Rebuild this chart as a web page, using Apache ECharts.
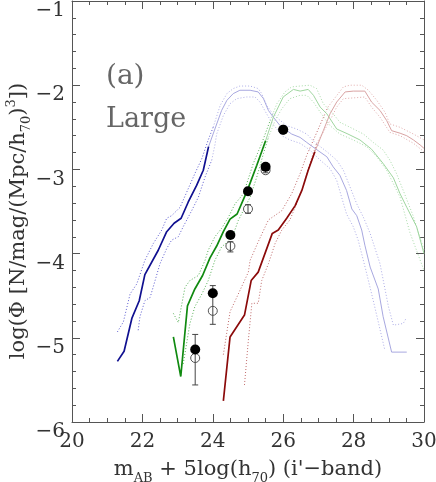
<!DOCTYPE html>
<html>
<head>
<meta charset="utf-8">
<script src="https://cdn.jsdelivr.net/npm/echarts@6/dist/echarts.min.js"></script>
<style>
  html, body { margin: 0; padding: 0; background: #fff; }
  #main { width: 436px; height: 482px; }
</style>
</head>
<body>
<div id="main"></div>
<script>
  // 曲线数据 [mag, log phi]
  const blueDark = [[21.29,-5.28],[21.48,-5.16],[21.70,-4.77],[21.91,-4.56],[22.07,-4.25],[22.45,-3.96],[22.69,-3.74],[22.90,-3.64],[23.10,-3.58],[23.30,-3.39],[23.54,-3.19],[23.73,-3.01],[23.88,-2.73]];
  const blueLight = [[23.88,-2.73],[24.06,-2.52],[24.25,-2.30],[24.40,-2.18],[24.58,-2.10],[24.77,-2.06],[25.06,-2.06],[25.29,-2.08],[25.44,-2.16],[25.58,-2.30],[25.72,-2.38],[25.91,-2.48],[26.24,-2.58],[26.48,-2.62],[26.67,-2.68],[26.90,-2.75],[27.24,-2.85],[27.42,-2.97],[27.61,-3.07],[27.80,-3.25],[27.95,-3.47],[28.09,-3.55],[28.23,-3.72],[28.32,-3.90],[28.47,-4.16],[28.70,-4.42],[28.84,-4.75],[29.08,-5.17],[29.51,-5.17]];
  const blueUpper = [[21.29,-4.93],[21.46,-4.81],[21.65,-4.48],[21.84,-4.36],[22.07,-4.08],[22.31,-3.88],[22.55,-3.72],[22.69,-3.58],[22.83,-3.55],[23.07,-3.45],[23.28,-3.25],[23.49,-3.05],[23.69,-2.87],[23.87,-2.65],[24.01,-2.50],[24.21,-2.24],[24.40,-2.10],[24.58,-2.04],[24.77,-2.01],[25.06,-2.01],[25.29,-2.04],[25.39,-2.10],[25.53,-2.24],[25.67,-2.32],[25.86,-2.40],[26.10,-2.48],[26.38,-2.52],[26.67,-2.58],[26.90,-2.68],[27.24,-2.79],[27.52,-2.89],[27.71,-3.01],[27.90,-3.21],[28.09,-3.41],[28.28,-3.57],[28.47,-3.76],[28.75,-4.12],[28.99,-4.63],[29.13,-4.85],[29.41,-4.83],[29.49,-4.77]];
  const blueLower = [[21.88,-4.91],[21.93,-4.75],[22.07,-4.56],[22.22,-4.52],[22.36,-4.32],[22.50,-4.12],[22.69,-3.94],[22.83,-3.84],[23.02,-3.80],[23.16,-3.68],[23.40,-3.49],[23.59,-3.33],[23.78,-3.09],[23.97,-2.89],[24.06,-2.71],[24.11,-2.58],[24.30,-2.36],[24.49,-2.22],[24.68,-2.16],[24.96,-2.14],[25.20,-2.14],[25.34,-2.20],[25.53,-2.34],[25.67,-2.44],[25.82,-2.52],[25.96,-2.60],[26.19,-2.65],[26.48,-2.69],[26.76,-2.77],[27.05,-2.89],[27.33,-2.99],[27.52,-3.13],[27.66,-3.33],[27.80,-3.53],[27.99,-3.68],[28.13,-3.84],[28.35,-4.20],[28.56,-4.56],[28.89,-5.15]];

  const greenDark = [[22.88,-4.99],[23.09,-5.46],[23.28,-4.62],[23.49,-4.42],[23.71,-4.26],[23.92,-4.05],[24.11,-3.91],[24.30,-3.74],[24.49,-3.59],[24.69,-3.53],[24.99,-3.24],[25.25,-2.95],[25.50,-2.66]];
  const greenLight = [[25.50,-2.66],[25.72,-2.38],[26.00,-2.14],[26.29,-2.05],[26.48,-2.07],[26.71,-2.05],[26.86,-2.12],[27.05,-2.26],[27.24,-2.34],[27.52,-2.52],[27.84,-2.58],[28.18,-2.65],[28.51,-2.76],[28.84,-2.93],[29.13,-3.10],[29.32,-3.29],[29.51,-3.45],[29.79,-3.68],[30.00,-4.00]];
  const greenUpper = [[22.88,-4.71],[23.02,-4.82],[23.21,-4.40],[23.35,-4.32],[23.59,-4.26],[23.78,-4.08],[23.87,-3.96],[24.06,-3.80],[24.25,-3.70],[24.44,-3.57],[24.63,-3.41],[24.87,-3.29],[25.15,-2.93],[25.39,-2.69],[25.63,-2.42],[25.82,-2.22],[26.05,-2.08],[26.24,-2.02],[26.48,-2.01],[26.76,-2.00],[26.95,-2.04],[27.14,-2.22],[27.42,-2.34],[27.61,-2.44],[27.90,-2.50],[28.28,-2.58],[28.56,-2.68],[28.84,-2.77],[29.03,-2.89],[29.22,-3.05],[29.41,-3.25],[29.69,-3.55],[30.00,-3.96]];
  const greenLower = [[23.16,-5.31],[23.35,-4.83],[23.49,-4.63],[23.69,-4.48],[23.87,-4.32],[24.06,-4.08],[24.25,-3.92],[24.54,-3.82],[24.72,-3.61],[25.06,-3.33],[25.25,-3.09],[25.44,-2.81],[25.58,-2.62],[25.77,-2.42],[25.96,-2.28],[26.19,-2.16],[26.48,-2.12],[26.67,-2.12],[26.86,-2.20],[27.05,-2.32],[27.33,-2.48],[27.61,-2.58],[27.99,-2.65],[28.37,-2.73],[28.66,-2.85],[28.94,-3.01],[29.13,-3.17],[29.32,-3.33],[29.60,-3.75],[30.00,-4.20]];

  const redDark = [[24.30,-5.75],[24.49,-4.99],[24.90,-4.73],[25.09,-4.32],[25.29,-4.22],[25.69,-3.76],[25.86,-3.72],[26.10,-3.58],[26.34,-3.43],[26.53,-3.25],[26.71,-3.01],[26.90,-2.79]];
  const redLight = [[26.90,-2.79],[27.14,-2.54],[27.33,-2.34],[27.52,-2.20],[27.76,-2.08],[27.99,-2.07],[28.32,-2.07],[28.51,-2.20],[28.75,-2.30],[28.94,-2.42],[29.08,-2.54],[29.32,-2.57],[29.51,-2.60],[29.70,-2.65],[29.89,-2.71],[30.00,-2.75]];
  const redUpper = [[24.30,-5.20],[24.49,-4.69],[24.68,-4.52],[25.01,-4.22],[25.06,-4.08],[25.29,-3.86],[25.58,-3.60],[25.72,-3.56],[25.96,-3.49],[26.24,-3.29],[26.48,-3.05],[26.67,-2.83],[26.86,-2.65],[27.27,-2.26],[27.71,-2.02],[27.90,-2.00],[28.23,-2.00],[28.42,-2.06],[28.66,-2.18],[28.89,-2.32],[29.03,-2.46],[29.32,-2.50],[29.70,-2.58],[30.00,-2.65]];
  const redLower = [[24.90,-5.56],[25.01,-5.03],[25.11,-4.59],[25.29,-4.59],[25.39,-4.32],[25.58,-4.12],[25.77,-3.88],[25.96,-3.72],[26.19,-3.60],[26.38,-3.41],[26.57,-3.19],[26.76,-2.93],[26.95,-2.69],[27.33,-2.42],[27.52,-2.26],[27.71,-2.16],[28.32,-2.14],[28.51,-2.26],[28.75,-2.38],[29.03,-2.56],[29.32,-2.60],[29.70,-2.69],[30.00,-2.79]];

  // 观测点
  const obsX = [23.5, 24.0, 24.5, 25.0, 25.5, 26.0];
  const filledY = [-5.14, -4.47, -3.78, -3.26, -2.97, -2.53];
  const openY = [-5.24, -4.68, -3.91, -3.47, -3.01, -2.53];
  const errTop = [-4.96, -4.38, -3.86, -3.42, -2.98, null];
  const errBottom = [-5.56, -4.84, -3.98, -3.52, -3.04, null];

  const FONT = '"DejaVu Serif", serif';
  const AXIS_COLOR = '#555';

  // 在亮/暗颜色交界处把虚线分开
  function splitAt(pts, cut) {
    let i = pts.findIndex(p => p[0] > cut);
    if (i < 0) return [pts, []];
    return [pts.slice(0, i + 1), pts.slice(i)];
  }

  function line(data, color, width, dotted, z) {
    return {
      type: 'line', data: data, symbol: 'none', silent: true, z: z,
      lineStyle: { color: color, width: width, type: dotted ? [1, 2] : 'solid' }
    };
  }

  function family(dark, light, upper, lower, cDark, cLight, cDotDark, cDotLight) {
    const cut = dark[dark.length - 1][0];
    const up = splitAt(upper, cut), lo = splitAt(lower, cut);
    return [
      line(up[1], cDotLight, 1, true, 2), line(lo[1], cDotLight, 1, true, 2),
      line(up[0], cDotDark, 1, true, 3), line(lo[0], cDotDark, 1, true, 3),
      line(light, cLight, 1, false, 4),
      line(dark, cDark, 1.7, false, 5)
    ];
  }

  const chart = echarts.init(document.getElementById('main'));

  const axisLine = { show: true, lineStyle: { color: AXIS_COLOR, width: 1 } };
  const axisTick = { show: true, inside: true, length: 8, lineStyle: { color: AXIS_COLOR } };

  const errData = obsX.map((x, i) => [x, errTop[i], errBottom[i]]).filter(d => d[1] != null);

  const titleRich = {
    n: { fontFamily: FONT, fontSize: 21, fill: '#333', color: '#333', lineHeight: 28 },
    s: { fontFamily: FONT, fontSize: 13, fill: '#333', color: '#333', lineHeight: 28, verticalAlign: 'bottom' },
    p: { fontFamily: FONT, fontSize: 13, fill: '#333', color: '#333', lineHeight: 28, verticalAlign: 'top' }
  };

  chart.setOption({
    animation: false,
    backgroundColor: '#fff',
    grid: { left: 72, right: 12, top: 1, bottom: 60, outerBoundsMode: 'none', containLabel: false },
    xAxis: [
      {
        type: 'value', min: 20, max: 30, interval: 2,
        axisLine: axisLine, axisTick: axisTick, splitLine: { show: false },
        minorTick: { show: true, splitNumber: 4, length: 4, lineStyle: { color: AXIS_COLOR } },
        axisLabel: { fontFamily: FONT, fontSize: 20, color: '#333', margin: 10 },
        name: '{n|m}{s|AB}{n| + 5log(h}{s|70}{n|) (i\'\u2212band)}',
        nameLocation: 'middle', nameGap: 33, nameMoveOverlap: false,
        nameTextStyle: {
          rich: {
            n: { fontFamily: FONT, fontSize: 21, color: '#333', lineHeight: 30 },
            s: { fontFamily: FONT, fontSize: 13, color: '#333', lineHeight: 30, verticalAlign: 'bottom' }
          }
        }
      },
      {
        type: 'value', min: 20, max: 30, interval: 2, position: 'top',
        axisLine: axisLine, axisTick: axisTick, splitLine: { show: false },
        minorTick: { show: true, splitNumber: 4, length: 4, lineStyle: { color: AXIS_COLOR } },
        axisLabel: { show: false }
      }
    ],
    yAxis: [
      {
        type: 'value', min: -6, max: -1, interval: 1,
        axisLine: axisLine, axisTick: axisTick, splitLine: { show: false },
        minorTick: { show: true, splitNumber: 5, length: 4, lineStyle: { color: AXIS_COLOR } },
        axisLabel: {
          fontFamily: FONT, fontSize: 20, color: '#333', margin: 7, verticalAlign: 'top',
          formatter: v => (v < 0 ? '\u2212' : '') + Math.abs(v)
        }
      },
      {
        type: 'value', min: -6, max: -1, interval: 1, position: 'right',
        axisLine: axisLine, axisTick: axisTick, splitLine: { show: false },
        minorTick: { show: true, splitNumber: 5, length: 4, lineStyle: { color: AXIS_COLOR } },
        axisLabel: { show: false }
      }
    ],
    graphic: [
      { type: 'text', x: 106, y: 77, style: { text: '(a)', font: '28px "DejaVu Serif"', fill: '#666', verticalAlign: 'middle' } },
      { type: 'text', x: 106, y: 120, style: { text: 'Large', font: '27px "DejaVu Serif"', fill: '#666', verticalAlign: 'middle' } },
      {
        type: 'text', x: 19, y: 221, rotation: Math.PI / 2,
        style: {
          text: '{n|log(\u03a6 [N/mag/(Mpc/h}{s|70}{n|)}{p|3}{n|])}',
          rich: titleRich, align: 'center', verticalAlign: 'middle'
        }
      }
    ],
    series: [].concat(
      family(blueDark, blueLight, blueUpper, blueLower, '#101090', '#a8a8e0', '#5a5ad0', '#aeaee8'),
      family(greenDark, greenLight, greenUpper, greenLower, '#108a10', '#9fd69f', '#55b055', '#a8dca8'),
      family(redDark, redLight, redUpper, redLower, '#8b0a0a', '#d9a3a3', '#c06a6a', '#e2acac'),
      [
        {
          type: 'scatter', data: obsX.map((x, i) => [x, openY[i]]), z: 10,
          symbol: 'circle', symbolSize: 9, silent: true,
          itemStyle: { color: '#fff', borderColor: '#555', borderWidth: 1, opacity: 1 }
        },
        {
          type: 'custom', data: errData, z: 11, silent: true,
          renderItem: function (params, api) {
            const top = api.coord([api.value(0), api.value(1)]);
            const bot = api.coord([api.value(0), api.value(2)]);
            const w = 3;
            const st = { stroke: '#444', lineWidth: 1 };
            return {
              type: 'group', children: [
                { type: 'line', shape: { x1: top[0], y1: top[1], x2: bot[0], y2: bot[1] }, style: st },
                { type: 'line', shape: { x1: top[0] - w, y1: top[1], x2: top[0] + w, y2: top[1] }, style: st },
                { type: 'line', shape: { x1: bot[0] - w, y1: bot[1], x2: bot[0] + w, y2: bot[1] }, style: st }
              ]
            };
          }
        },
        {
          type: 'scatter', data: obsX.map((x, i) => [x, filledY[i]]), z: 12,
          symbol: 'circle', symbolSize: 10, silent: true,
          itemStyle: { color: '#000', opacity: 1 }
        }
      ]
    )
  });
</script>
</body>
</html>
